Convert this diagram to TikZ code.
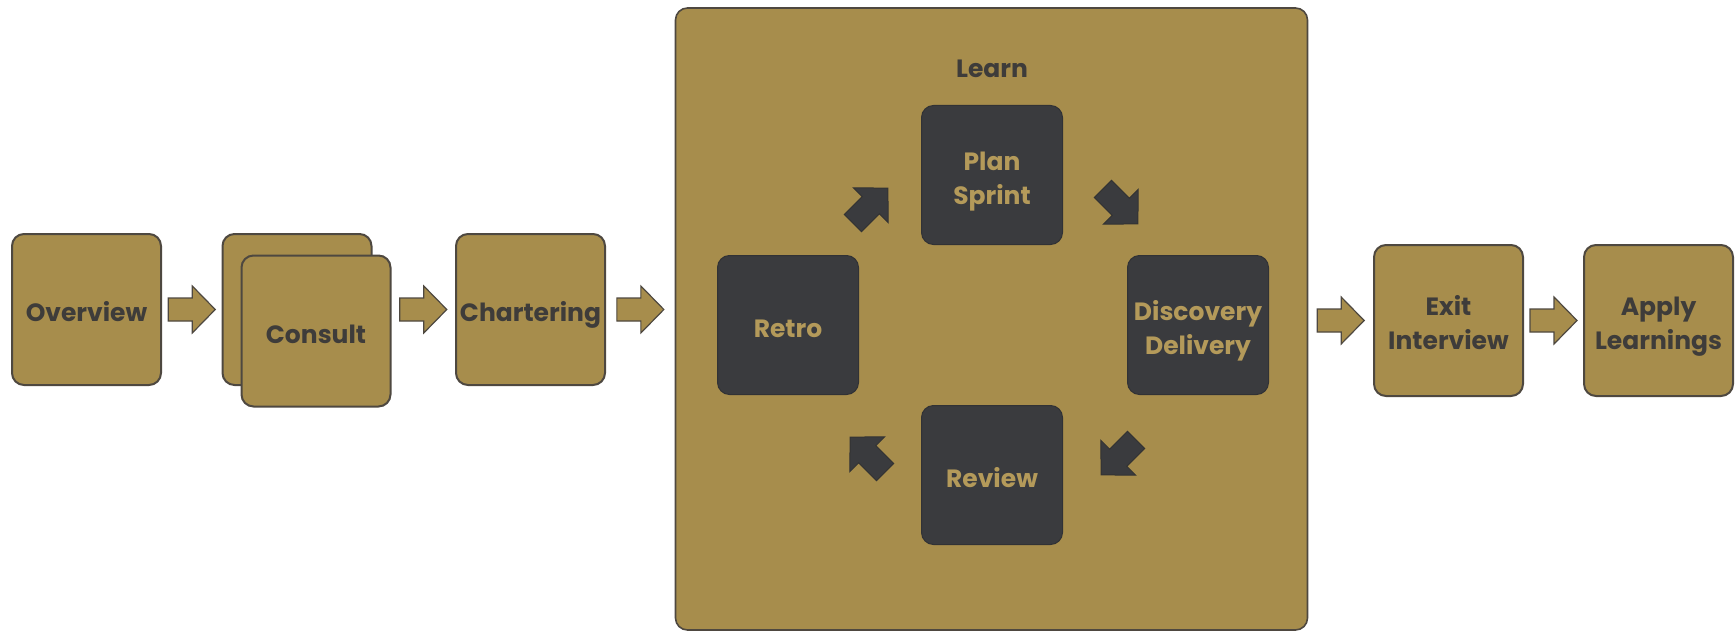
\documentclass[tikz,border=0pt]{standalone}
\usepackage{fontspec}
\setmainfont{Poppins}
\usetikzlibrary{positioning}
\usetikzlibrary{calc}

\definecolor{gold}{RGB}{167,141,76}
\definecolor{goldtext}{RGB}{180,154,90}
\definecolor{ink}{RGB}{62,60,58}
\definecolor{edge}{RGB}{78,72,64}
\definecolor{slate}{RGB}{58,59,62}

% struts keep the labels a touch below the middle of each box
\newcommand{\topstrut}{\rule{0pt}{32.5pt}}
\newcommand{\botstrut}{\rule[-8pt]{0pt}{8pt}}

\tikzset{
    stage/.style={draw=edge, line width=2pt, fill=gold, rounded corners=12pt,
        minimum width=149pt, minimum height=151pt, inner sep=0pt, align=center,
        text=ink, font=\fontsize{25}{34}\selectfont\bfseries,
        execute at begin node=\topstrut, execute at end node=\botstrut},
    sprintbox/.style={draw=slate!85!black, line width=1pt, fill=slate, rounded corners=12pt,
        minimum width=141pt, minimum height=139pt, inner sep=0pt, align=center,
        text=goldtext, font=\fontsize{25}{34}\selectfont\bfseries,
        execute at begin node=\topstrut, execute at end node=\botstrut},
    goldarrow/.style={fill=gold, draw=edge, line width=1.2pt},
    darkarrow/.style={fill=slate, draw=black!80, line width=1pt, scale=1.05},
    flowarrow/.pic={
        \path[pic actions] (-23.5,-11.5) -- (0.5,-11.5) -- (0.5,-23.5) -- (23.5,0)
            -- (0.5,23.5) -- (0.5,11.5) -- (-23.5,11.5) -- cycle;
    },
}

\begin{document}
\begin{tikzpicture}[x=1pt, y=1pt]
    \useasboundingbox (0,0) rectangle (1736,633);

    % outer loop box
    \node[stage, line width=1.6pt, minimum width=632pt, minimum height=622pt] (learn) at (991.5,314) {};
    \node[text=ink, font=\fontsize{25}{34}\selectfont\bfseries] (learntitle) at (992,564) {Learn};

    % steps before and after
    \node[stage] (overview) at (86.5,323.5) {Overview};
    \node[stage] (consultb) at (297,323.5) {};
    \node[stage] (consult) at (316,302) {Consult};
    \node[stage] (chartering) at (530.5,323.5) {Chartering};
    \node[stage] (exit) at (1448.5,312.5) {\topstrut Exit\\Interview};
    \node[stage] (apply) at (1658.5,312.5) {\topstrut Apply\\Learnings};

    \pic[goldarrow] at ($(overview.east)!.5!(consultb.west)$) {flowarrow};
    \pic[goldarrow] at ($(consult.east |- chartering.west)!.5!(chartering.west)$) {flowarrow};
    \pic[goldarrow] at ($(chartering.east)!.5!(learn.west |- chartering.east)$) {flowarrow};
    \pic[goldarrow] at ($(learn.east |- exit.west)!.5!(exit.west)$) {flowarrow};
    \pic[goldarrow] at ($(exit.east)!.5!(apply.west)$) {flowarrow};

    % sprint cycle
    \coordinate (hub) at (992,308);
    \node[sprintbox, above=80pt of hub] (plan) {\topstrut Plan\\Sprint};
    \node[sprintbox, right=135pt of hub] (discovery) {\topstrut Discovery\\Delivery};
    \node[sprintbox, below=80pt of hub] (review) {Review};
    \node[sprintbox, left=133pt of hub] (retro) {Retro};

    \pic[darkarrow, rotate=45] at ($(hub)+(-121.6,119.4)$) {flowarrow};
    \pic[darkarrow, rotate=-45] at ($(hub)+(128.4,118.6)$) {flowarrow};
    \pic[darkarrow, rotate=-135] at ($(hub)+(126.6,-132.4)$) {flowarrow};
    \pic[darkarrow, rotate=135] at ($(hub)+(-124.4,-129.6)$) {flowarrow};
\end{tikzpicture}
\end{document}
